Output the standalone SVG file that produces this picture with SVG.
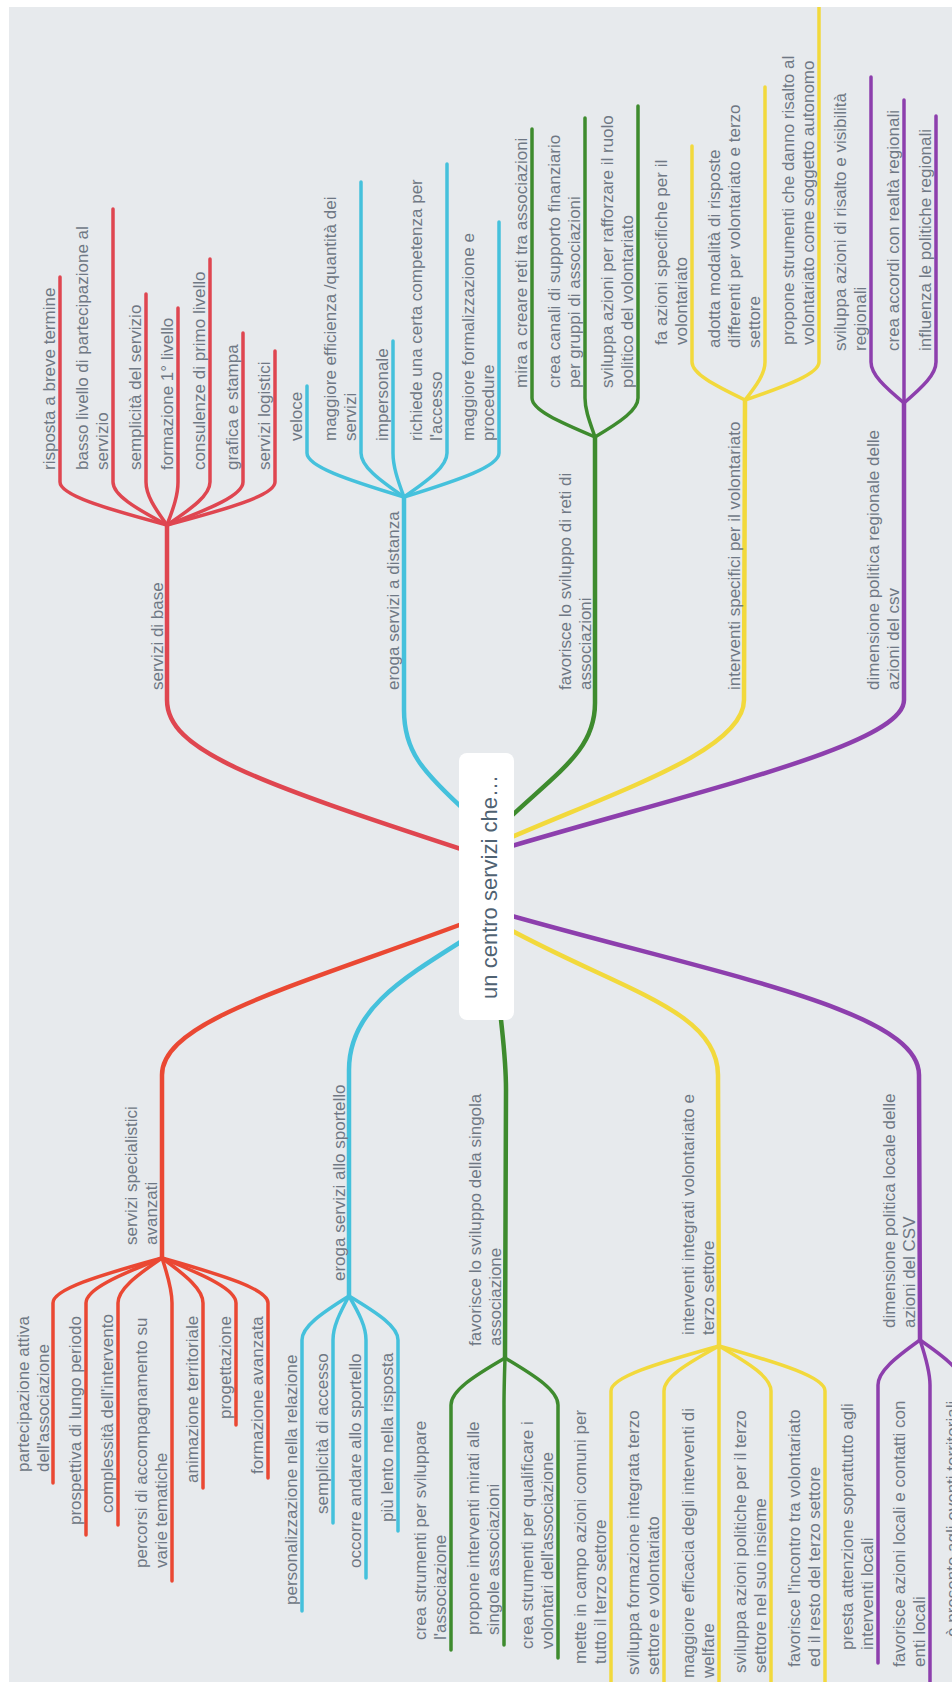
<svg xmlns="http://www.w3.org/2000/svg" width="952" height="1682" viewBox="0 0 952 1682">
<style>
.t{font-family:"Liberation Sans",Arial,Helvetica,sans-serif;font-size:17px;fill:#6f7884}
.ct{font-family:"Liberation Sans",Arial,Helvetica,sans-serif;font-size:22px;fill:#4f6272}
path{fill:none;stroke-linecap:round}
.m{stroke-width:4.5}
.s{stroke-width:3.5}
.r1{stroke:#df4650}.r2{stroke:#ea4833}.b{stroke:#45c1dc}.g{stroke:#3e8b2e}.y{stroke:#f2d93c}.p{stroke:#8d3fad}
</style>
<rect x="0" y="0" width="952" height="1682" fill="#ffffff"/>
<rect x="9" y="7" width="943" height="1675" fill="#e7eaed"/>
<g id="connectors">
<!-- main upper -->
<path class="m r1" d="M470 852 C250 780 167 750 167 700 L167 525"/>
<path class="m b" d="M470 815 C420 770 404 750 404 710 L404 497"/>
<path class="m g" d="M505 822 C560 770 595 750 595 703 L595 437"/>
<path class="m y" d="M505 840 C620 790 744 750 744 700 L745 400"/>
<path class="m p" d="M505 848 C700 790 904 745 904 700 L904 403"/>
<!-- main lower -->
<path class="m r2" d="M470 921 C300 985 162 1020 162 1075 L162 1258"/>
<path class="m b" d="M470 936 C400 980 349 1010 349 1070 L349 1296"/>
<path class="m g" d="M500 1010 C503 1040 506 1060 506 1090 L505 1358"/>
<path class="m y" d="M505 927 C620 990 718 1010 718 1075 L719 1346"/>
<path class="m p" d="M505 914 C720 975 919 1010 919 1075 L920 1340"/>
<!-- red upper children -->
<path class="s r1" d="M167 525 C102.8 507.8 60 494.9 60 482 L60 277"/>
<path class="s r1" d="M167 525 C134.6 507.8 113 494.9 113 482 L113 209"/>
<path class="s r1" d="M167 525 C154.4 507.8 146 494.9 146 482 L146 294"/>
<path class="s r1" d="M167 525 C173.6 507.8 178 494.9 178 482 L178 308"/>
<path class="s r1" d="M167 525 C192.8 507.8 210 494.9 210 482 L210 259"/>
<path class="s r1" d="M167 525 C212.6 507.8 243 494.9 243 482 L243 333"/>
<path class="s r1" d="M167 525 C231.8 507.8 275 494.9 275 482 L275 351"/>
<!-- blue upper children -->
<path class="s b" d="M404 497 C345.8 479.4 307 466.2 307 453 L307 386"/>
<path class="s b" d="M404 497 C378.2 479.4 361 466.2 361 453 L361 182"/>
<path class="s b" d="M404 497 C397.4 479.4 393 466.2 393 453 L393 341"/>
<path class="s b" d="M404 497 C429.8 479.4 447 466.2 447 453 L447 164"/>
<path class="s b" d="M404 497 C461 479.4 499 466.2 499 453 L499 222"/>
<!-- green upper children -->
<path class="s g" d="M595 437 C557.8 421.4 532 409.7 532 398 L532 129"/>
<path class="s g" d="M595 437 C589.6 421.4 585 409.7 585 398 L585 118"/>
<path class="s g" d="M595 437 C621.4 421.4 638 409.7 638 398 L638 106"/>
<!-- yellow upper children -->
<path class="s y" d="M745 400 C713.2 384.8 692 373.4 692 362 L692 146"/>
<path class="s y" d="M745 400 C757 384.8 765 373.4 765 362 L765 87"/>
<path class="s y" d="M745 400 C789.4 384.8 819 373.4 819 362 L819 7" style="stroke-linecap:butt"/>
<!-- purple upper children -->
<path class="s p" d="M904 403 C884.2 386.6 871 374.3 871 362 L871 77"/>
<path class="s p" d="M904 403 C904 386.6 904 374.3 904 362 L904 100"/>
<path class="s p" d="M904 403 C923.2 386.6 936 374.3 936 362 L936 116"/>
<!-- red lower children -->
<path class="s r2" d="M162 1258 C96.6 1276 53 1289.5 53 1303 L53 1483"/>
<path class="s r2" d="M162 1258 C116.4 1276 86 1289.5 86 1303 L86 1535"/>
<path class="s r2" d="M162 1258 C135.6 1276 118 1289.5 118 1303 L118 1525"/>
<path class="s r2" d="M162 1258 C168 1276 172 1289.5 172 1303 L172 1581"/>
<path class="s r2" d="M162 1258 C186.6 1276 203 1289.5 203 1303 L203 1488"/>
<path class="s r2" d="M162 1258 C206.4 1276 236 1289.5 236 1303 L236 1425"/>
<path class="s r2" d="M162 1258 C225.6 1276 268 1289.5 268 1303 L268 1478"/>
<!-- blue lower children -->
<path class="s b" d="M349 1296 C320.8 1313.6 302 1326.8 302 1340 L302 1611"/>
<path class="s b" d="M349 1296 C339.4 1313.6 333 1326.8 333 1340 L333 1523"/>
<path class="s b" d="M349 1296 C359.2 1313.6 366 1326.8 366 1340 L366 1578"/>
<path class="s b" d="M349 1296 C378.4 1313.6 398 1326.8 398 1340 L398 1531"/>
<!-- green lower children -->
<path class="s g" d="M505 1358 C472.6 1376.8 451 1390.9 451 1405 L451 1650"/>
<path class="s g" d="M505 1358 C504.4 1376.8 504 1390.9 504 1405 L504 1645"/>
<path class="s g" d="M505 1358 C536.8 1376.8 558 1390.9 558 1405 L558 1658"/>
<!-- yellow lower children -->
<path class="s y" d="M719 1346 C654.2 1364 611 1377.5 611 1391 L611 1690"/>
<path class="s y" d="M719 1346 C686 1364 664 1377.5 664 1391 L664 1690"/>
<path class="s y" d="M719 1346 C719 1364 719 1377.5 719 1391 L719 1690"/>
<path class="s y" d="M719 1346 C750.2 1364 771 1377.5 771 1391 L771 1690"/>
<path class="s y" d="M719 1346 C782.6 1364 825 1377.5 825 1391 L825 1690"/>
<!-- purple lower children -->
<path class="s p" d="M920 1340 C894.8 1358 878 1371.5 878 1385 L878 1663"/>
<path class="s p" d="M920 1340 C926 1358 930 1371.5 930 1385 L930 1690"/>
<path class="s p" d="M920 1340 C946 1358 963 1371.5 963 1385 L963 1690"/>
</g>
<g id="center">
<rect x="459" y="753" width="55" height="267" rx="8" fill="#ffffff"/>
<text class="ct" text-anchor="middle" transform="translate(497,887) rotate(-90)">un centro servizi  che…</text>
</g>
<g id="servizi-di-base">
<text class="t" transform="translate(163,690) rotate(-90)">servizi di base</text>
</g>
<g id="base-children">
<text class="t" transform="translate(55,470) rotate(-90)">risposta a breve termine</text>
<text class="t" transform="translate(88,470) rotate(-90)">basso livello di partecipazione al<tspan x="0" y="20">servizio</tspan></text>
<text class="t" transform="translate(141,470) rotate(-90)">semplicità del servizio</text>
<text class="t" transform="translate(173,470) rotate(-90)">formazione 1° livello</text>
<text class="t" transform="translate(205,470) rotate(-90)">consulenze di primo livello</text>
<text class="t" transform="translate(238,470) rotate(-90)">grafica e stampa</text>
<text class="t" transform="translate(270,470) rotate(-90)">servizi logistici</text>
</g>
<g id="eroga-distanza">
<text class="t" transform="translate(399,690) rotate(-90)">eroga servizi a distanza</text>
</g>
<g id="distanza-children">
<text class="t" transform="translate(302,441) rotate(-90)">veloce</text>
<text class="t" transform="translate(336,441) rotate(-90)">maggiore efficienza /quantità dei<tspan x="0" y="20">servizi</tspan></text>
<text class="t" transform="translate(388,441) rotate(-90)">impersonale</text>
<text class="t" transform="translate(422,441) rotate(-90)">richiede una certa competenza per<tspan x="0" y="20">l'accesso</tspan></text>
<text class="t" transform="translate(474,441) rotate(-90)">maggiore formalizzazione e<tspan x="0" y="20">procedure</tspan></text>
</g>
<g id="reti-associazioni">
<text class="t" transform="translate(571,690) rotate(-90)">favorisce lo sviluppo  di reti di<tspan x="0" y="20">associazioni</tspan></text>
</g>
<g id="reti-children">
<text class="t" transform="translate(527,388) rotate(-90)">mira a creare reti tra associazioni</text>
<text class="t" transform="translate(560,388) rotate(-90)">crea canali di supporto finanziario<tspan x="0" y="20">per gruppi di associazioni</tspan></text>
<text class="t" transform="translate(613,388) rotate(-90)">sviluppa azioni per rafforzare il ruolo<tspan x="0" y="20">politico del volontariato</tspan></text>
</g>
<g id="interventi-specifici">
<text class="t" transform="translate(740,690) rotate(-90)">interventi specifici per il volontariato</text>
</g>
<g id="specifici-children">
<text class="t" transform="translate(667,345) rotate(-90)">fa azioni specifiche per il<tspan x="0" y="20">volontariato</tspan></text>
<text class="t" transform="translate(720,348) rotate(-90)">adotta  modalità di risposte<tspan x="0" y="20">differenti per volontariato e terzo</tspan><tspan x="0" y="40">settore</tspan></text>
<text class="t" transform="translate(794,345) rotate(-90)">propone strumenti che danno risalto al<tspan x="0" y="20">volontariato come soggetto autonomo</tspan></text>
</g>
<g id="dimensione-regionale">
<text class="t" transform="translate(879,690) rotate(-90)">dimensione politica regionale delle<tspan x="0" y="20">azioni  del  csv</tspan></text>
</g>
<g id="regionale-children">
<text class="t" transform="translate(846,351) rotate(-90)">sviluppa azioni di risalto e visibilità<tspan x="0" y="20">regionali</tspan></text>
<text class="t" transform="translate(899,351) rotate(-90)">crea accordi con realtà regionali</text>
<text class="t" transform="translate(931,351) rotate(-90)">influenza  le politiche regionali</text>
</g>
<g id="servizi-specialistici">
<text class="t" transform="translate(137,1245) rotate(-90)">servizi specialistici<tspan x="0" y="20">avanzati</tspan></text>
</g>
<g id="specialistici-children">
<text class="t" transform="translate(29,1472) rotate(-90)">partecipazione attiva<tspan x="0" y="20">dell'associazione</tspan></text>
<text class="t" transform="translate(81,1525) rotate(-90)">prospettiva di lungo periodo</text>
<text class="t" transform="translate(113,1513) rotate(-90)">complessità dell'intervento</text>
<text class="t" transform="translate(147,1568) rotate(-90)">percorsi di accompagnamento su<tspan x="0" y="20">varie tematiche</tspan></text>
<text class="t" transform="translate(198,1483) rotate(-90)">animazione territoriale</text>
<text class="t" transform="translate(231,1419) rotate(-90)">progettazione</text>
<text class="t" transform="translate(263,1474) rotate(-90)">formazione avanzata</text>
</g>
<g id="eroga-sportello">
<text class="t" transform="translate(345,1281) rotate(-90)">eroga servizi allo sportello</text>
</g>
<g id="sportello-children">
<text class="t" transform="translate(297,1605) rotate(-90)">personalizzazione nella relazione</text>
<text class="t" transform="translate(328,1514) rotate(-90)">semplicità di accesso</text>
<text class="t" transform="translate(361,1568) rotate(-90)">occorre andare allo sportello</text>
<text class="t" transform="translate(393,1522) rotate(-90)">più lento nella risposta</text>
</g>
<g id="singola-associazione">
<text class="t" transform="translate(481,1346) rotate(-90)">favorisce lo sviluppo della singola<tspan x="0" y="20">associazione</tspan></text>
</g>
<g id="singola-children">
<text class="t" transform="translate(426,1640) rotate(-90)">crea strumenti per sviluppare<tspan x="0" y="20">l'associazione</tspan></text>
<text class="t" transform="translate(479,1635) rotate(-90)">propone interventi mirati alle<tspan x="0" y="20">singole associazioni</tspan></text>
<text class="t" transform="translate(533,1649) rotate(-90)">crea strumenti per qualificare i<tspan x="0" y="20">volontari dell'associazione</tspan></text>
</g>
<g id="interventi-integrati">
<text class="t" transform="translate(694,1335) rotate(-90)">interventi integrati volontariato e<tspan x="0" y="20">terzo settore</tspan></text>
</g>
<g id="integrati-children">
<text class="t" transform="translate(586,1664) rotate(-90)">mette in campo azioni comuni per<tspan x="0" y="20">tutto il terzo settore</tspan></text>
<text class="t" transform="translate(639,1675) rotate(-90)">sviluppa formazione integrata terzo<tspan x="0" y="20">settore e volontariato</tspan></text>
<text class="t" transform="translate(694,1678) rotate(-90)">maggiore efficacia degli interventi di<tspan x="0" y="20">welfare</tspan></text>
<text class="t" transform="translate(746,1673) rotate(-90)">sviluppa azioni politiche per il terzo<tspan x="0" y="20">settore nel suo insieme</tspan></text>
<text class="t" transform="translate(800,1667) rotate(-90)">favorisce l'incontro tra volontariato<tspan x="0" y="20">ed il resto del terzo settore</tspan></text>
</g>
<g id="dimensione-locale">
<text class="t" transform="translate(895,1328) rotate(-90)">dimensione politica locale delle<tspan x="0" y="20">azioni del CSV</tspan></text>
</g>
<g id="locale-children">
<text class="t" transform="translate(853,1650) rotate(-90)">presta attenzione soprattutto agli<tspan x="0" y="20">interventi locali</tspan></text>
<text class="t" transform="translate(905,1667) rotate(-90)">favorisce azioni locali e contatti con<tspan x="0" y="20">enti locali</tspan></text>
<text class="t" transform="translate(958,1637) rotate(-90)">è presente agli eventi territoriali</text>
</g>
</svg>
